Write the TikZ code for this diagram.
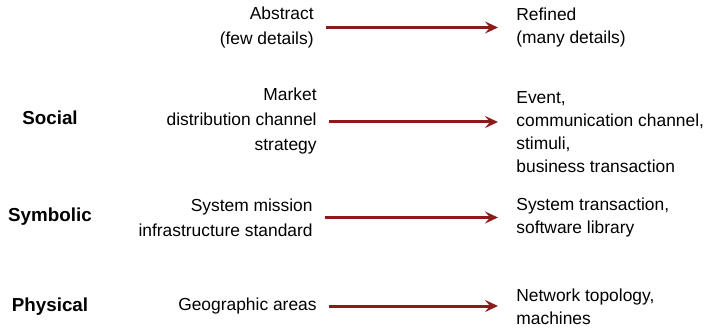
\documentclass[tikz,border=0pt]{standalone}
\usepackage{fontspec}
\setmainfont{Liberation Sans}
\usetikzlibrary{arrows.meta, positioning}
\definecolor{arrred}{HTML}{8B1A1A}

\begin{document}
\begin{tikzpicture}[x=0.5pt, y=-0.5pt,
  src/.style={anchor=east, align=right, inner sep=0pt,
              font=\fontsize{8.7}{12.3}\selectfont},
  dst/.style={anchor=west, align=left, inner sep=0pt,
              font=\fontsize{8.7}{11.4}\selectfont},
  lvl/.style={inner sep=0pt, font=\fontsize{9.4}{11.4}\selectfont\bfseries},
  arr/.style={-{Stealth[length=6.5pt, width=6pt, inset=2.5pt]},
              line width=1.5pt, draw=arrred, shorten <=6pt, shorten >=9pt}
]
  \useasboundingbox (0,0) rectangle (716,331);
  % level names
  \node[lvl] (soc) at (50,118) {Social};
  \node[lvl] (sym) at (50,217) {Symbolic};
  \node[lvl] (phy) at (50,307) {Physical};
  % abstract side
  \node[src] (a0) at (314,27.5)  {Abstract\\(few details)};
  \node[src] (a1) at (317,121)   {Market\\distribution channel\hspace*{3pt}\\strategy};
  \node[src] (a2) at (313,217.5) {System mission\\infrastructure standard};
  \node[src] (a3) at (317,306)   {Geographic areas};
  % refined side
  \node[dst] (r0) at (516,27.5)  {Refined\\(many details)};
  \node[dst] (r1) at (516,132)   {Event,\\communication channel,\\stimuli,\\business transaction};
  \node[dst] (r2) at (516,217.5) {System transaction,\\software library};
  \node[dst] (r3) at (516,306.5) {Network topology,\\machines};
  \draw[arr] (a0.east) -- (a0.east -| r0.west);
  \draw[arr] ([yshift=-0.5pt]a1.east) -- ([yshift=-0.5pt]a1.east -| r1.west);
  \draw[arr] (a2.east) -- (a2.east -| r2.west);
  \draw[arr] (a3.east) -- (a3.east -| r3.west);
\end{tikzpicture}
\end{document}
